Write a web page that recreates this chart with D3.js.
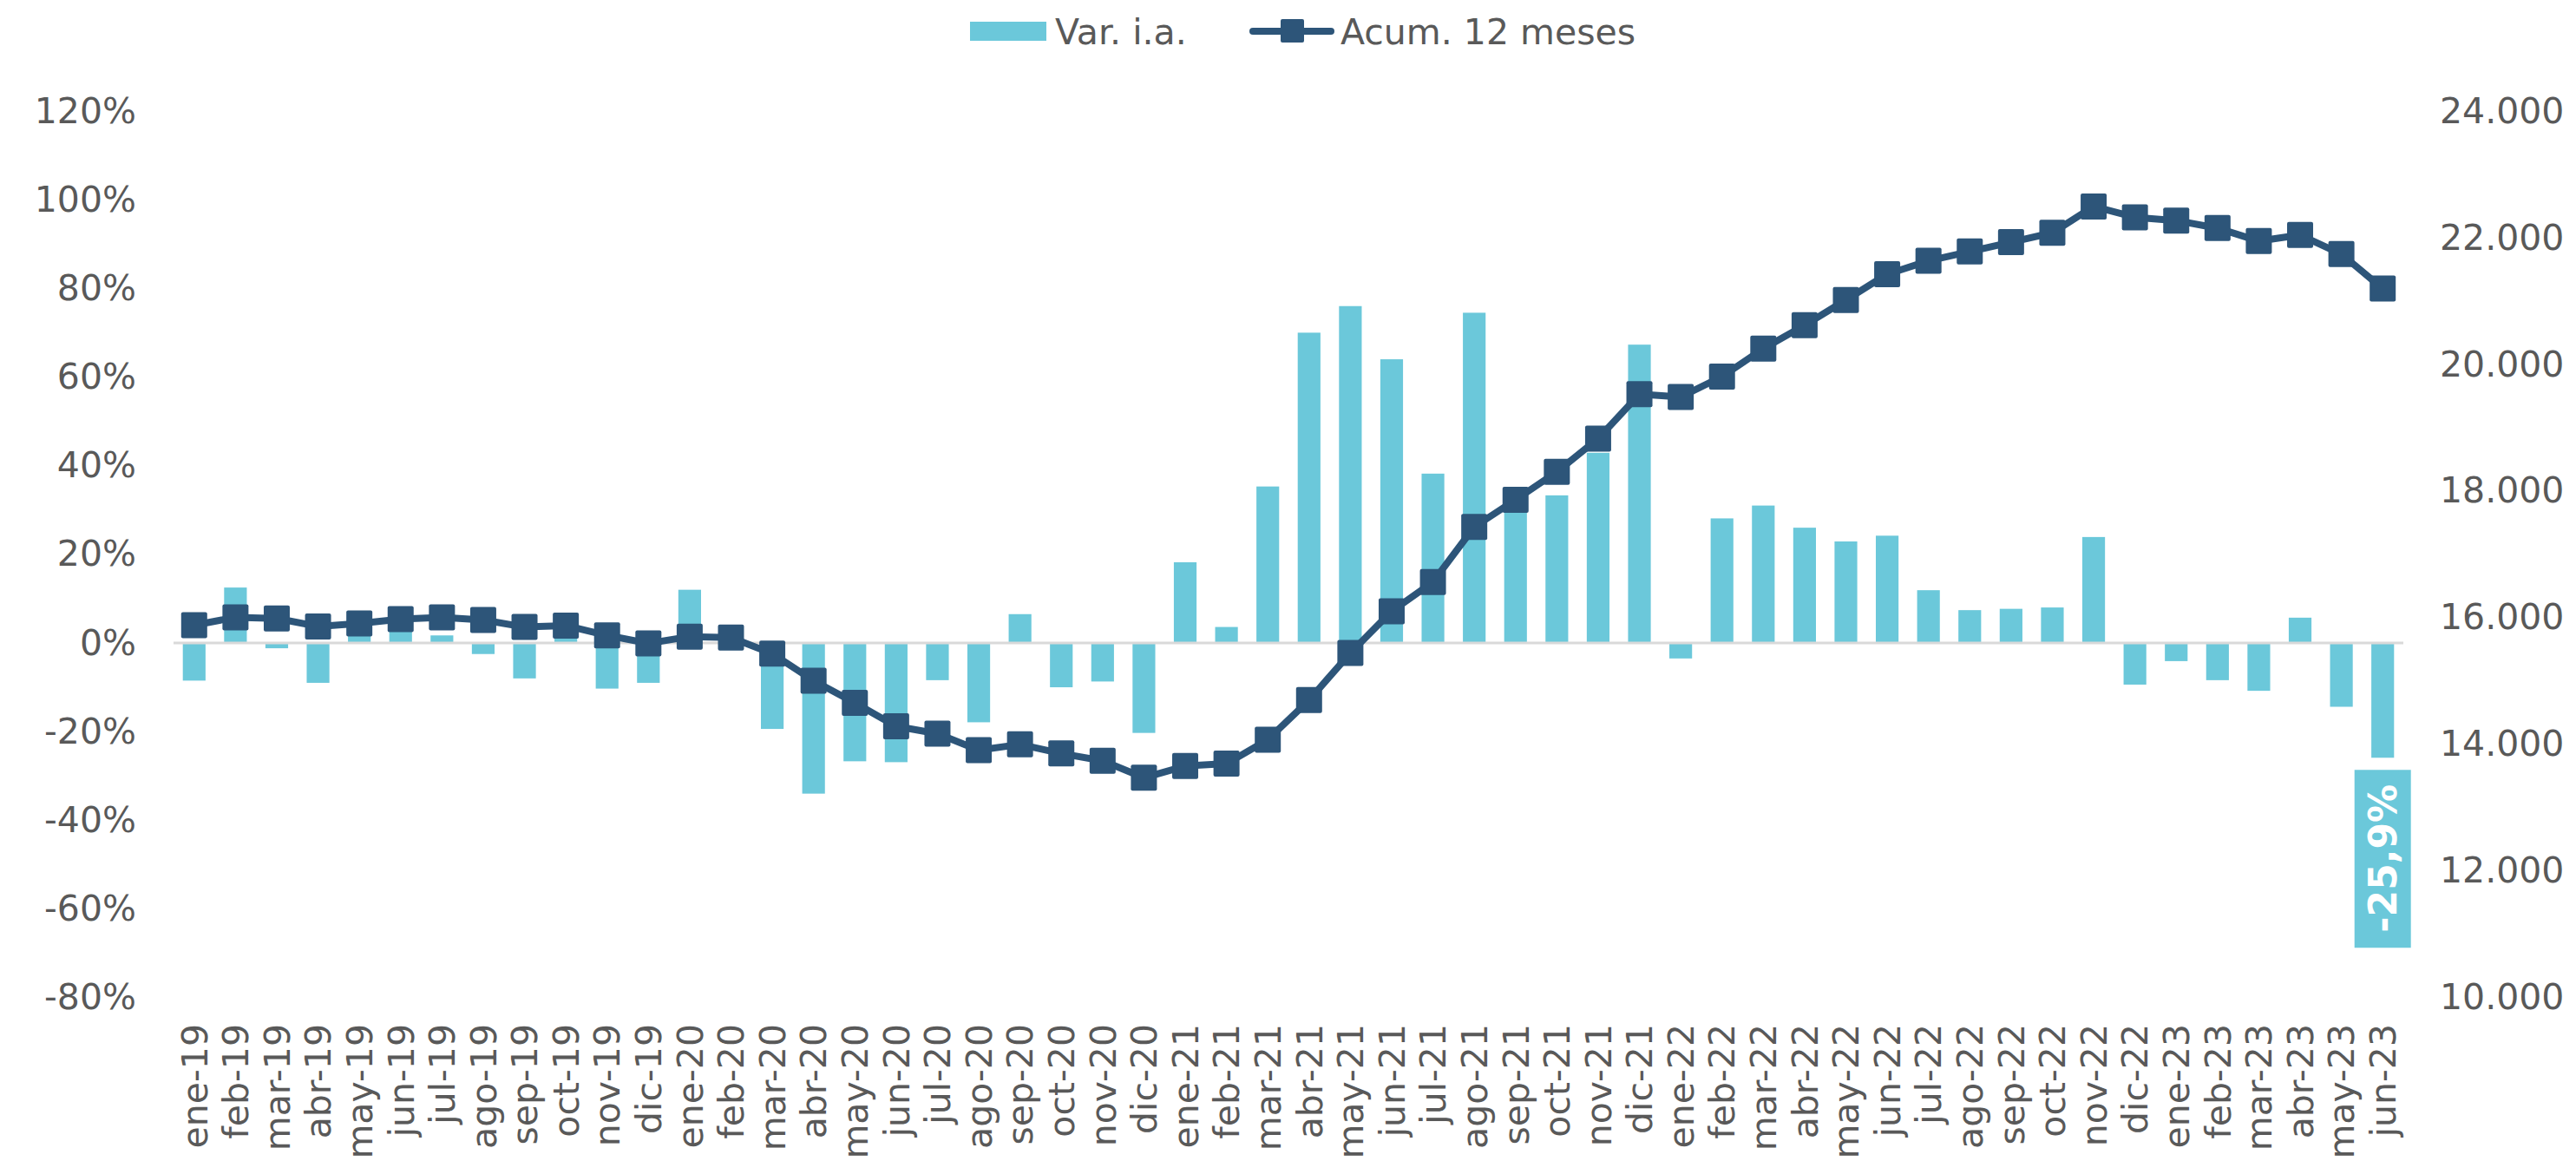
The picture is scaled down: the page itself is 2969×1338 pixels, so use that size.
<!DOCTYPE html>
<html>
<head>
<meta charset="utf-8">
<script src="https://cdn.jsdelivr.net/npm/d3@7"></script>
<style>
  body { margin: 0; background: #fff; }
  text { font-family: "DejaVu Sans", Verdana, sans-serif; fill: #595959; }
</style>
</head>
<body>
<div id="chart-area"></div>
<script>
// meses en el eje x
let categories = ["ene-19","feb-19","mar-19","abr-19","may-19","jun-19","jul-19","ago-19","sep-19","oct-19","nov-19","dic-19",
  "ene-20","feb-20","mar-20","abr-20","may-20","jun-20","jul-20","ago-20","sep-20","oct-20","nov-20","dic-20",
  "ene-21","feb-21","mar-21","abr-21","may-21","jun-21","jul-21","ago-21","sep-21","oct-21","nov-21","dic-21",
  "ene-22","feb-22","mar-22","abr-22","may-22","jun-22","jul-22","ago-22","sep-22","oct-22","nov-22","dic-22",
  "ene-23","feb-23","mar-23","abr-23","may-23","jun-23"];

// Var. i.a. (%), barras, eje izquierdo
let varIA = [-8.5, 12.5, -1.2, -9.0, 3, 4, 1.7, -2.5, -8.0, 2, -10.3, -9.0,
  12.0, -1.5, -19.4, -34.0, -26.7, -26.9, -8.4, -17.9, 6.5, -10.0, -8.7, -20.3,
  18.2, 3.6, 35.3, 70.0, 76.0, 64.0, 38.2, 74.5, 29.8, 33.3, 42.9, 67.3,
  -3.5, 28.1, 31.0, 26.0, 22.9, 24.2, 11.9, 7.4, 7.7, 8.0, 23.9, -9.4,
  -4.1, -8.4, -10.8, 5.7, -14.4, -25.9];

// Acum. 12 meses, linea, eje derecho
let acum12 = [15880, 16005, 15986, 15861, 15908, 15976, 16005, 15963, 15852, 15875, 15719, 15594,
  15700, 15686, 15432, 15003, 14653, 14284, 14167, 13906, 13998, 13854, 13739, 13471,
  13656, 13693, 14072, 14698, 15442, 16101, 16563, 17432, 17861, 18302, 18827, 19529,
  19486, 19807, 20248, 20617, 21016, 21424, 21635, 21782, 21930, 22078, 22493, 22322,
  22271, 22152, 21947, 22043, 21742, 21196];

let leftTicks = [-80, -60, -40, -20, 0, 20, 40, 60, 80, 100, 120];
let rightTicks = [10000, 12000, 14000, 16000, 18000, 20000, 22000, 24000];

let barColor = "#6BC8DA";
let lineColor = "#2D5579";

let svg = d3.select("#chart-area").append("svg")
    .attr("width", 2969)
    .attr("height", 1338);

let x = d3.scaleBand()
    .domain(categories)
    .range([200, 2770])
    .paddingInner(0.45)
    .paddingOuter(0.225);

let yL = d3.scaleLinear().domain([-80, 120]).range([1149.6, 128]);
let yR = d3.scaleLinear().domain([10000, 24000]).range([1149.6, 128]);

// ejes
let fmtMiles = d => d3.format(",")(d).replace(/,/g, ".");

svg.append("g")
    .attr("transform", "translate(200,0)")
    .call(d3.axisLeft(yL).tickValues(leftTicks).tickFormat(d => d + "%").tickSize(0).tickPadding(43))
    .call(g => g.select(".domain").remove())
    .selectAll("text")
    .style("font-size", "41px")
    .style("font-family", "DejaVu Sans")
    .attr("fill", "#595959");

svg.append("g")
    .attr("transform", "translate(2770,0)")
    .call(d3.axisRight(yR).tickValues(rightTicks).tickFormat(fmtMiles).tickSize(0).tickPadding(42))
    .call(g => g.select(".domain").remove())
    .selectAll("text")
    .style("font-size", "41px")
    .style("font-family", "DejaVu Sans")
    .attr("fill", "#595959");

svg.append("g")
    .attr("transform", "translate(0,1150)")
    .call(d3.axisBottom(x).tickSize(0))
    .call(g => g.select(".domain").remove())
    .selectAll("text")
    .attr("y", 0)
    .attr("x", -30)
    .attr("dy", "0.36em")
    .attr("transform", "rotate(-90)")
    .style("text-anchor", "end")
    .style("font-size", "41px")
    .style("font-family", "DejaVu Sans")
    .attr("fill", "#595959");

// barras
svg.selectAll("rect.bar")
    .data(varIA)
    .enter()
    .append("rect")
    .attr("class", "bar")
    .attr("x", (d, i) => x(categories[i]))
    .attr("y", d => yL(Math.max(0, d)))
    .attr("width", x.bandwidth())
    .attr("height", d => Math.abs(yL(d) - yL(0)))
    .attr("fill", barColor);

// linea del cero
svg.append("line")
    .attr("x1", 200).attr("x2", 2770)
    .attr("y1", yL(0)).attr("y2", yL(0))
    .attr("stroke", "#D9D9D9")
    .attr("stroke-width", 3);

// linea acumulada
let cx = i => x(categories[i]) + x.bandwidth() / 2;
let line = d3.line()
    .x((d, i) => cx(i))
    .y(d => yR(d));

svg.append("path")
    .datum(acum12)
    .attr("d", line)
    .attr("fill", "none")
    .attr("stroke", lineColor)
    .attr("stroke-width", 8)
    .attr("stroke-linejoin", "round");

svg.selectAll("rect.mk")
    .data(acum12)
    .enter()
    .append("rect")
    .attr("class", "mk")
    .attr("x", (d, i) => cx(i) - 15)
    .attr("y", d => yR(d) - 15)
    .attr("width", 30)
    .attr("height", 30)
    .attr("rx", 2)
    .attr("fill", lineColor);

// etiqueta del ultimo dato
let last = varIA.length - 1;
let lx = cx(last);
let ly = yL(varIA[last]) + 14;
svg.append("rect")
    .attr("x", lx - 32.5)
    .attr("y", ly)
    .attr("width", 65)
    .attr("height", 205)
    .attr("fill", barColor);
svg.append("text")
    .attr("transform", `translate(${lx},${ly + 102}) rotate(-90)`)
    .attr("text-anchor", "middle")
    .attr("dy", "0.36em")
    .style("font-size", "44px")
    .style("font-weight", "bold")
    .style("fill", "#fff")
    .text(String(varIA[last]).replace(".", ",") + "%");

// leyenda
let leg = svg.append("g");
leg.append("rect")
    .attr("x", 1118).attr("y", 25)
    .attr("width", 88).attr("height", 22)
    .attr("fill", barColor);
leg.append("text")
    .attr("x", 1216).attr("y", 36)
    .attr("dy", "0.36em")
    .style("font-size", "41px")
    .text("Var. i.a.");
leg.append("line")
    .attr("x1", 1444).attr("x2", 1534)
    .attr("y1", 36).attr("y2", 36)
    .attr("stroke", lineColor)
    .attr("stroke-width", 8)
    .attr("stroke-linecap", "round");
leg.append("rect")
    .attr("x", 1476).attr("y", 22)
    .attr("width", 27).attr("height", 27)
    .attr("rx", 2)
    .attr("fill", lineColor);
leg.append("text")
    .attr("x", 1545).attr("y", 36)
    .attr("dy", "0.36em")
    .style("font-size", "41px")
    .text("Acum. 12 meses");
</script>
</body>
</html>
